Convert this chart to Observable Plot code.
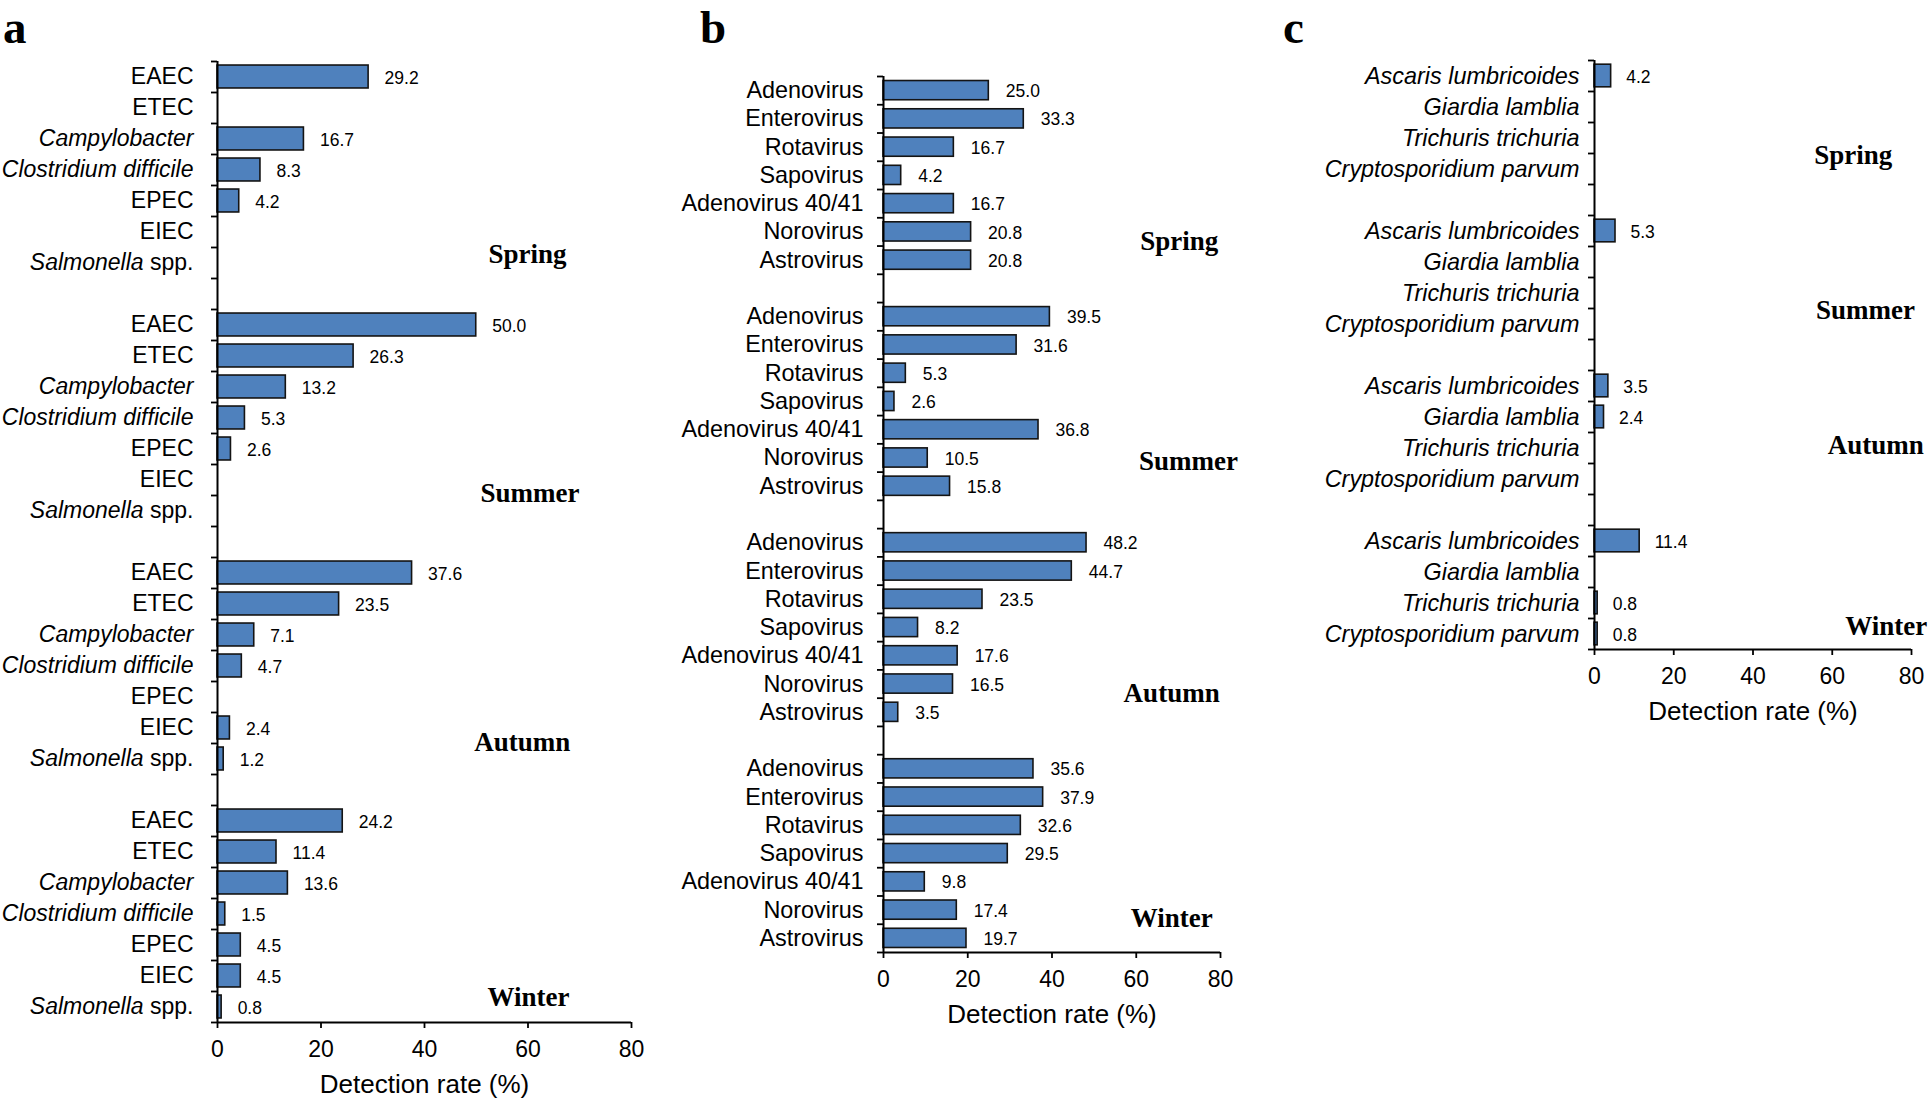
<!DOCTYPE html>
<html><head><meta charset="utf-8">
<script src="https://cdn.jsdelivr.net/npm/d3@7"></script>
<script src="https://cdn.jsdelivr.net/npm/@observablehq/plot@0.6"></script>
<style>
html,body{margin:0;padding:0;background:#fff;}
#root{position:relative;width:1928px;height:1101px;overflow:hidden;background:#fff;}
.panel{position:absolute;top:0;}
.letter{position:absolute;font-family:"Liberation Serif","Times New Roman",serif;font-weight:bold;font-size:47px;line-height:normal;color:#000;}
</style></head><body><div id="root"></div>
<script>
// ---------- data ----------
const seasons = ["Spring", "Summer", "Autumn", "Winter"];
const xTicks = [0, 20, 40, 60, 80];
const axisTitle = "Detection rate (%)";

// panel a: bacteria
const bacteria = ["EAEC", "ETEC", "Campylobacter", "Clostridium difficile", "EPEC", "EIEC", "Salmonella spp."];
const bacteriaSpring = [29.2, null, 16.7, 8.3, 4.2, null, null];
const bacteriaSummer = [50.0, 26.3, 13.2, 5.3, 2.6, null, null];
const bacteriaAutumn = [37.6, 23.5, 7.1, 4.7, null, 2.4, 1.2];
const bacteriaWinter = [24.2, 11.4, 13.6, 1.5, 4.5, 4.5, 0.8];

// panel b: viruses
const viruses = ["Adenovirus", "Enterovirus", "Rotavirus", "Sapovirus", "Adenovirus 40/41", "Norovirus", "Astrovirus"];
const virusSpring = [25.0, 33.3, 16.7, 4.2, 16.7, 20.8, 20.8];
const virusSummer = [39.5, 31.6, 5.3, 2.6, 36.8, 10.5, 15.8];
const virusAutumn = [48.2, 44.7, 23.5, 8.2, 17.6, 16.5, 3.5];
const virusWinter = [35.6, 37.9, 32.6, 29.5, 9.8, 17.4, 19.7];

// panel c: parasites
const parasites = ["Ascaris lumbricoides", "Giardia lamblia", "Trichuris trichuria", "Cryptosporidium parvum"];
const parasiteSpring = [4.2, null, null, null];
const parasiteSummer = [5.3, null, null, null];
const parasiteAutumn = [3.5, 2.4, null, null];
const parasiteWinter = [11.4, null, 0.8, 0.8];

// season label placement (x in % units, y in row units)
const seasonLabelA = [{x: 59.9, y: 6.22}, {x: 60.4, y: 13.93}, {x: 58.9, y: 21.95}, {x: 60.1, y: 30.18}];
const seasonLabelB = [{x: 70.2, y: 5.84}, {x: 72.4, y: 13.62}, {x: 68.4, y: 21.84}, {x: 68.4, y: 29.8}];
const seasonLabelC = [{x: 65.3, y: 3.07}, {x: 68.4, y: 8.06}, {x: 71.0, y: 12.43}, {x: 73.6, y: 18.25}];

// ---------- drawing ----------
const root = document.getElementById("root");

function panel(cfg) {
  const {cats, series, seasonPos, left, width, marginLeft, marginRight, marginTop, bottom,
         labelPad, barPad, valuePad, labelSize, italicAll, italicSet} = cfg;
  const n = cats.length, N = 4 * n + 3;
  const rows = [];
  series.forEach((vals, s) => cats.forEach((c, i) => rows.push({row: s * (n + 1) + i, label: c, value: vals[i]})));
  const bars = rows.filter(d => d.value != null);
  const labelMap = new Map(rows.map(d => [d.row + 0.5, d.label]));
  const seasonData = seasonPos.map((p, i) => ({...p, name: seasons[i]}));

  const svg = Plot.plot({
    width, height: 1101, marginLeft, marginRight, marginTop, marginBottom: 1101 - bottom,
    x: {domain: [0, 80]},
    y: {domain: [0, N], reverse: true},
    style: {fontFamily: '"Liberation Sans", Arial, sans-serif', color: "#000", background: "transparent", overflow: "visible"},
    marks: [
      Plot.rectX(bars, {x1: 0, x2: "value", y1: d => d.row + barPad, y2: d => d.row + 1 - barPad,
        fill: "#4F81BD", stroke: "#141414", strokeWidth: 1.6}),
      Plot.text(bars, {x: "value", y: d => d.row + 0.5, text: d => d.value.toFixed(1), textAnchor: "start",
        dx: valuePad, dy: 1, fontSize: 17.5, fill: "#000"}),
      Plot.axisY({ticks: d3.range(N + 1), tickSize: 6, tickFormat: () => "", strokeWidth: 1.8, label: null}),
      Plot.axisY({ticks: rows.map(d => d.row + 0.5), tickSize: 0, tickPadding: labelPad,
        tickFormat: v => labelMap.get(v), fontSize: labelSize, label: null}),
      Plot.ruleX([0], {y1: 0, y2: N, strokeWidth: 2, stroke: "#000"}),
      Plot.ruleY([N], {x1: 0, x2: 80, strokeWidth: 2, stroke: "#000"}),
      Plot.axisX({ticks: xTicks, tickSize: 6, tickPadding: 12, fontSize: 23, label: null, strokeWidth: 1.8}),
      Plot.text([axisTitle], {frameAnchor: "bottom", lineAnchor: "middle", text: d => d, dy: 62, fontSize: 26, fill: "#000"}),
      Plot.text(seasonData, {x: "x", y: "y", text: "name", fontFamily: '"Liberation Serif", "Times New Roman", serif',
        fontWeight: "bold", fontSize: 27, fill: "#000"})
    ]
  });

  // italic species names
  d3.select(svg).selectAll("text").each(function () {
    const t = this.textContent;
    if (t === "Salmonella spp.") {
      const sel = d3.select(this);
      sel.text(null);
      sel.append("tspan").attr("font-style", "italic").text("Salmonella");
      sel.append("tspan").text("\u00A0spp.");
    } else if (cats.includes(t) && (italicAll || (italicSet && italicSet.includes(t)))) {
      this.setAttribute("font-style", "italic");
    }
  });

  svg.classList.add("panel");
  svg.style.left = left + "px";
  svg.style.position = "absolute";
  svg.style.top = "0px";
  root.appendChild(svg);
}

panel({cats: bacteria, series: [bacteriaSpring, bacteriaSummer, bacteriaAutumn, bacteriaWinter],
  seasonPos: seasonLabelA, left: 0, width: 660, marginLeft: 217, marginRight: 29, marginTop: 61, bottom: 1022,
  labelPad: 24, barPad: 0.13, valuePad: 16, labelSize: 23, italicSet: ["Campylobacter", "Clostridium difficile"]});

panel({cats: viruses, series: [virusSpring, virusSummer, virusAutumn, virusWinter],
  seasonPos: seasonLabelB, left: 660, width: 600, marginLeft: 223, marginRight: 40, marginTop: 76, bottom: 952,
  labelPad: 20, barPad: 0.16, valuePad: 17, labelSize: 23.4, italicSet: []});

panel({cats: parasites, series: [parasiteSpring, parasiteSummer, parasiteAutumn, parasiteWinter],
  seasonPos: seasonLabelC, left: 1260, width: 668, marginLeft: 334, marginRight: 17, marginTop: 60, bottom: 649,
  labelPad: 15, barPad: 0.135, valuePad: 15, labelSize: 23.4, italicAll: true});

// panel letters
[["a", 3, 0], ["b", 700, 0], ["c", 1283, 0]].forEach(([t, x, y]) => {
  const d = document.createElement("div");
  d.className = "letter";
  d.textContent = t;
  d.style.left = x + "px";
  d.style.top = y + "px";
  root.appendChild(d);
});
</script>
</body></html>
